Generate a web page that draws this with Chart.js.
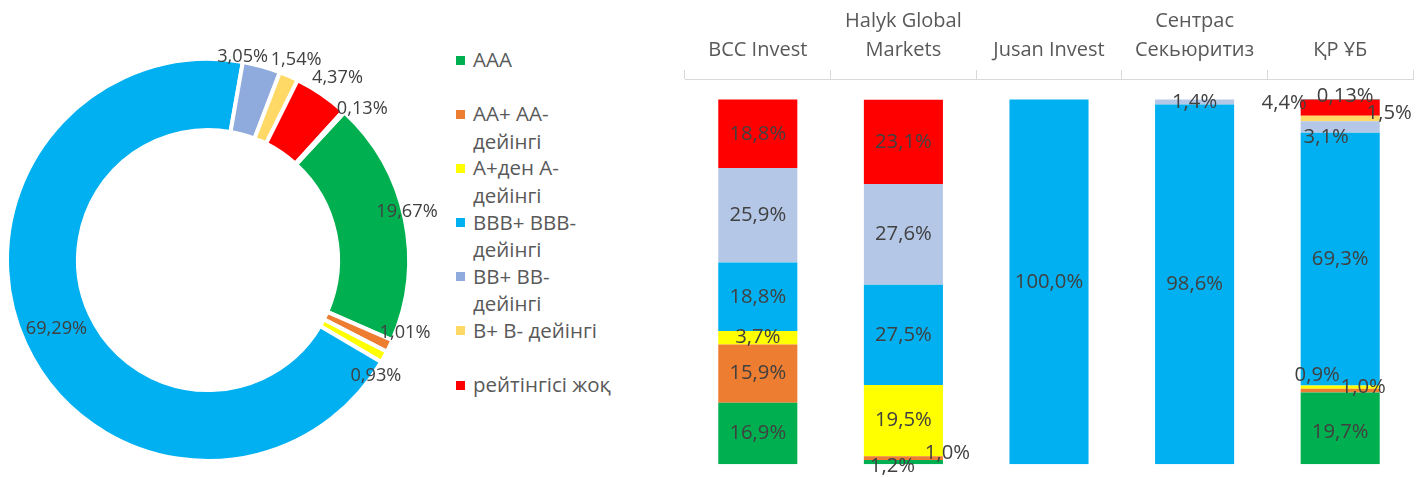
<!DOCTYPE html>
<html>
<head>
<meta charset="utf-8">
<script src="https://cdn.jsdelivr.net/npm/chart.js@4.4.0/dist/chart.umd.min.js"></script>
<style>
  html, body { margin: 0; padding: 0; background: #fff; }
  body { width: 1421px; height: 477px; position: relative; overflow: hidden; font-family: 'Open Sans', 'Noto Sans', sans-serif; }
  #pie { position: absolute; left: 0; top: 0; }
  #bars { position: absolute; left: 660px; top: 0; }
  #legend { position: absolute; left: 456px; top: 46px; }
  .item { display: flex; height: 54.2px; }
  .swatch { width: 9px; height: 9px; margin-top: 9.5px; margin-right: 8px; flex: none; }
  .txt { width: 143px; font-size: 20.5px; line-height: 27.5px; color: #595959; }
</style>
</head>
<body>
<canvas id="pie" width="452" height="477"></canvas>
<div id="legend"></div>
<canvas id="bars" width="761" height="477"></canvas>
<script>
// rating groups (legend order); the last slice/series has no name in the source
const ratings = ["AAA", "AA+ AA- дейінгі", "A+ден A- дейінгі", "BBB+ BBB- дейінгі", "BB+ BB- дейінгі", "B+ B- дейінгі", "рейтінгісі жоқ", ""];
const pieColors = ["#00B050", "#ED7D31", "#FFFF00", "#00B0F0", "#8FAADC", "#FFD966", "#FF0000", "#595959"];
const barColors = ["#00B050", "#ED7D31", "#FFFF00", "#00B0F0", "#B4C7E7", "#FFD966", "#FF0000", "#404040"];

// doughnut: total portfolio share, %
const portfolioShare = [19.67, 1.01, 0.93, 69.29, 3.05, 1.54, 4.37, 0.13];

// stacked bars: brokers and share of each rating group, %
const brokers = ["BCC Invest", ["Halyk Global", "Markets"], "Jusan Invest", ["Сентрас", "Секьюритиз"], "ҚР ҰБ"];
const shareAAA  = [16.9, 1.2, 0, 0, 19.7];
const shareAA   = [15.9, 1.0, 0, 0, 1.0];
const shareA    = [3.7, 19.5, 0, 0, 0.9];
const shareBBB  = [18.8, 27.5, 100, 98.6, 69.3];
const shareBB   = [25.9, 27.6, 0, 1.4, 3.1];
const shareB    = [0, 0, 0, 0, 1.5];
const shareNone = [18.8, 23.1, 0, 0, 4.4];
const shareRest = [0, 0, 0, 0, 0.13];
const barSeries = [shareAAA, shareAA, shareA, shareBBB, shareBB, shareB, shareNone, shareRest];

const FONT = "'Open Sans', 'Noto Sans', sans-serif";
Chart.defaults.font.family = FONT;

// legend (html, wraps like the original)
const legend = document.getElementById('legend');
ratings.forEach((name, i) => {
  if (!name) return;
  const item = document.createElement('div');
  item.className = 'item';
  item.innerHTML = '<span class="swatch" style="background:' + pieColors[i] + '"></span><span class="txt">' + name + '</span>';
  legend.appendChild(item);
});

// label placement around the ring: [radius factor, angle shift in degrees]
const sliceLabelPlace = [[1.019, -1.8], [1.045, -5.1], [1.015, 5.8], [0.829, 0.2], [1.027, -5.8], [1.09, 0], [1.11, 1.1], [1.073, 3.2]];

const pieLabels = {
  id: 'pieLabels',
  afterDatasetsDraw(chart) {
    const ctx = chart.ctx;
    const arcs = chart.getDatasetMeta(0).data;
    ctx.save();
    ctx.font = "18.2px " + FONT;
    ctx.fillStyle = '#404040';
    ctx.textAlign = 'center';
    ctx.textBaseline = 'middle';
    arcs.forEach((arc, i) => {
      const [rf, shift] = sliceLabelPlace[i];
      const a = (arc.startAngle + arc.endAngle) / 2 + shift * Math.PI / 180;
      const r = arc.outerRadius * rf;
      const txt = portfolioShare[i].toFixed(2).replace('.', ',') + '%';
      ctx.fillText(txt, arc.x + r * Math.cos(a), arc.y + r * Math.sin(a));
    });
    ctx.restore();
  }
};

new Chart(document.getElementById('pie'), {
  type: 'doughnut',
  data: {
    labels: ratings,
    datasets: [{
      data: portfolioShare,
      backgroundColor: pieColors,
      borderColor: '#ffffff',
      borderWidth: 4
    }]
  },
  options: {
    responsive: false,
    animation: false,
    rotation: 42.7,
    cutout: '64.7%',
    layout: { padding: { left: 5, top: 57, right: 41, bottom: 14 } },
    plugins: { legend: { display: false }, tooltip: { enabled: false } }
  },
  plugins: [pieLabels]
});

// small segments get their labels pushed aside, keyed "series-broker"
const labelNudge = {
  '0-1': [-11, 4], '1-1': [44, -5], '2-0': [0, -1],
  '0-4': [0, 4], '1-4': [23, -3], '2-4': [-23, -12],
  '4-4': [-14, 10], '5-4': [49, -5], '6-4': [-56, -5], '7-4': [5, -3]
};

function fmtBar(v) {
  let s = String(v);
  if (s.indexOf('.') < 0) s += '.0';
  return s.replace('.', ',') + '%';
}

const barLabels = {
  id: 'barLabels',
  afterDatasetsDraw(chart) {
    const ctx = chart.ctx;
    ctx.save();
    ctx.font = "20.3px " + FONT;
    ctx.fillStyle = '#404040';
    ctx.textAlign = 'center';
    ctx.textBaseline = 'middle';
    chart.data.datasets.forEach((ds, di) => {
      chart.getDatasetMeta(di).data.forEach((bar, bi) => {
        const v = ds.data[bi];
        if (!v) return;
        const [dx, dy] = labelNudge[di + '-' + bi] || [0, 0];
        ctx.fillText(fmtBar(v), bar.x + dx, (bar.y + bar.base) / 2 + dy);
      });
    });
    ctx.restore();
  }
};

new Chart(document.getElementById('bars'), {
  type: 'bar',
  data: {
    labels: brokers,
    datasets: barSeries.map((vals, i) => ({
      label: ratings[i],
      data: vals,
      backgroundColor: barColors[i],
      borderWidth: 0,
      barPercentage: 1,
      categoryPercentage: 0.543
    }))
  },
  options: {
    responsive: false,
    animation: false,
    layout: { padding: { left: 25, right: 8, top: 0, bottom: 12.7 } },
    scales: {
      x: {
        position: 'top',
        stacked: true,
        afterFit: (scale) => { scale.height = 79; },
        grid: { drawOnChartArea: false, drawTicks: true, tickLength: 9, color: '#D9D9D9' },
        border: { color: '#D9D9D9' },
        ticks: { color: '#595959', font: { size: 20, lineHeight: 1.45 }, padding: 5.5, maxRotation: 0 }
      },
      y: { stacked: true, display: false, min: 0, max: 105.6 }
    },
    plugins: { legend: { display: false }, tooltip: { enabled: false } }
  },
  plugins: [barLabels]
});
</script>
</body>
</html>
